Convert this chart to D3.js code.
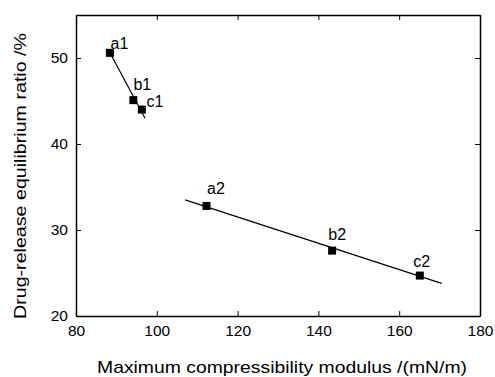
<!DOCTYPE html>
<html><head><meta charset="utf-8">
<script src="https://cdn.jsdelivr.net/npm/d3@7"></script>
<style>body{margin:0;background:#fff}svg{display:block}text{font-family:"Liberation Sans",Arial,sans-serif;fill:#000}</style>
</head><body>
<script>
const labels = ["a1","b1","c1","a2","b2","c2"];
const modulus = [88.4, 94.2, 96.3, 112.3, 143.4, 165.1];
const ratio = [50.6, 45.1, 44.0, 32.8, 27.6, 24.7];
const fit1X = [88.4, 97.1];
const fit1Y = [50.6, 43.0];
const fit2X = [107.0, 170.5];
const fit2Y = [33.5, 23.8];
const xTicks = [80, 100, 120, 140, 160, 180];
const yTicks = [20, 30, 40, 50];

const W = 495, H = 377;
const m = {l: 76, r: 15, t: 15, b: 61};
const svg = d3.select("body").append("svg").attr("width", W).attr("height", H);
const x = d3.scaleLinear().domain([80, 180]).range([m.l, W - m.r]);
const y = d3.scaleLinear().domain([20, 55]).range([H - m.b, m.t]);

const g = svg.append("g");
const ax = g.append("g").attr("transform", `translate(0,${H - m.b})`)
  .call(d3.axisBottom(x).tickValues(xTicks).tickSizeInner(-5).tickSizeOuter(0).tickPadding(9));
const axT = g.append("g").attr("transform", `translate(0,${m.t})`)
  .call(d3.axisTop(x).tickValues(xTicks).tickSizeInner(-5).tickSizeOuter(0).tickFormat(""));
const ay = g.append("g").attr("transform", `translate(${m.l},0)`)
  .call(d3.axisLeft(y).tickValues(yTicks).tickSizeInner(-5).tickSizeOuter(0).tickPadding(8));
const ayR = g.append("g").attr("transform", `translate(${W - m.r},0)`)
  .call(d3.axisRight(y).tickValues(yTicks).tickSizeInner(-5).tickSizeOuter(0).tickFormat(""));
[ax, axT, ay, ayR].forEach(a => {
  a.select(".domain").attr("stroke", "#000").attr("stroke-width", 1.5);
  a.selectAll(".tick line").attr("stroke", "#000").attr("stroke-width", 1);
  a.selectAll(".tick text").attr("font-size", 15.5).attr("font-family", '"Liberation Sans",Arial,sans-serif');
});

const line = d3.line().x(d => x(d[0])).y(d => y(d[1]));
[[fit1X, fit1Y], [fit2X, fit2Y]].forEach(([xs, ys]) => {
  g.append("path").datum(xs.map((v, i) => [v, ys[i]])).attr("d", line)
    .attr("fill", "none").attr("stroke", "#000").attr("stroke-width", 1.2);
});

const s = 8;
g.selectAll("rect.pt").data(modulus).enter().append("rect").attr("class", "pt")
  .attr("x", (d) => x(d) - s / 2).attr("y", (d, i) => y(ratio[i]) - s / 2)
  .attr("width", s).attr("height", s).attr("fill", "#000");

const off = {a1:[9.5,-4], b1:[9,-10], c1:[13,-3], a2:[9.5,-11.5], b2:[5,-11], c2:[2,-9]};
g.selectAll("text.lab").data(labels).enter().append("text").attr("class", "lab")
  .attr("x", (d, i) => x(modulus[i]) + off[d][0]).attr("y", (d, i) => y(ratio[i]) + off[d][1])
  .attr("text-anchor", "middle").attr("font-size", 16).text(d => d);

svg.append("text").attr("x", 282).attr("y", 373).attr("text-anchor", "middle")
  .attr("font-size", 17).attr("textLength", 370).attr("lengthAdjust", "spacingAndGlyphs")
  .text("Maximum compressibility modulus /(mN/m)");
svg.append("text").attr("transform", `translate(26,176) rotate(-90)`)
  .attr("text-anchor", "middle").attr("font-size", 17).attr("textLength", 286).attr("lengthAdjust", "spacingAndGlyphs")
  .text("Drug-release equilibrium ratio /%");
</script>
</body></html>
